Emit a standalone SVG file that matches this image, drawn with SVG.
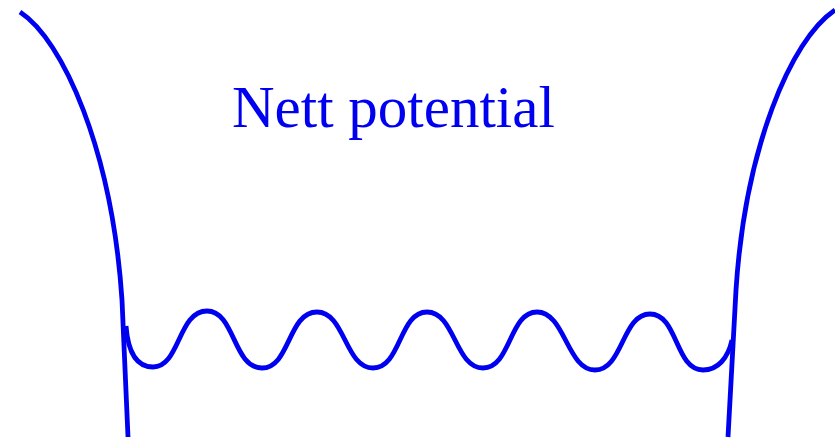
<svg xmlns="http://www.w3.org/2000/svg" width="835" height="441" viewBox="0 0 835 441">
<style>
.c{fill:none;stroke:#0000f0;stroke-width:4.8;stroke-linecap:butt;stroke-linejoin:round}
.t{font-family:"Liberation Serif","Times New Roman",serif;font-size:59px;fill:#0000f0}
</style>
<rect width="835" height="441" fill="#fff"/>
<g id="connectors">
<path id="left-wall" class="c" d="M20,12 C63,40 112,150 122,300 L128,437"/>
<path id="right-wall" class="c" d="M835,10 C790,40 745,150 736,290 L728,437"/>
<path id="wave" class="c" d="M126,326 C128,352 136,367 153,367 C180,367 178,311 207,311 C235,311 233,368 262,368 C290,368 288,312 317,312 C345,312 345,368 373,368 C401,368 399,312 427,312 C455,312 455,368 483,368 C511,368 509,312 537,312 C565,312 567,370 595,370 C623,370 622,314 650,314 C678,314 675,370 703,370 C718,370 728,358 732,340"/>
</g>
<g id="label"><text class="t" x="232" y="127">Nett potential</text></g>
</svg>
